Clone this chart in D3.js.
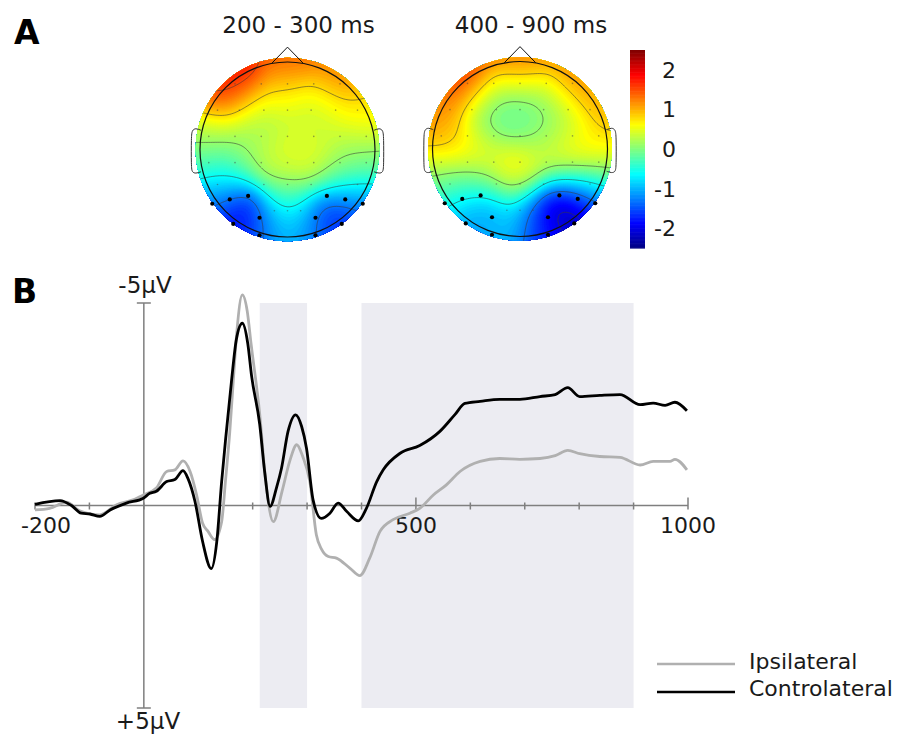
<!DOCTYPE html>
<html>
<head>
<meta charset="utf-8">
<script src="https://cdn.jsdelivr.net/npm/d3@7"></script>
<style>
  body { margin: 0; background: #fff; }
  text { font-family: "DejaVu Sans", Verdana, sans-serif; fill: #1a1a1a; }
</style>
</head>
<body>
<div class="figure"></div>
<script>
// ---- data ----
// ERP waveforms: [time (ms), amplitude (µV)], negative plotted up
var controlateral = [
  [-200,-0.03],[-154,-0.12],[-133,0.0],[-115,0.19],[-99,0.21],[-81,0.27],[-62,0.11],[-32,-0.06],
  [-1,-0.18],[11,-0.30],[23,-0.35],[42,-0.59],[57,-0.64],[72,-0.86],[81,-0.67],[94,-0.10],
  [108,0.89],[124,1.56],[134,0.9],[143,-0.59],[150,-1.6],[161,-3.06],[170,-4.1],[181,-4.5],
  [191,-4.0],[198,-3.2],[213,-2.0],[222,-0.84],[232,0.02],[244,-0.45],[253,-0.92],[265,-1.83],
  [279,-2.24],[290,-1.95],[299,-1.41],[311,-0.14],[326,0.32],
  [342,0.19],[357,-0.06],[373,0.15],[394,0.38],[409,0.07],[428,-0.59],[440,-0.88],[471,-1.29],
  [507,-1.48],[544,-1.83],[572,-2.25],[590,-2.52],[618,-2.57],[654,-2.62],[691,-2.62],[728,-2.69],
  [756,-2.74],[779,-2.91],[801,-2.69],[838,-2.72],[875,-2.74],[912,-2.49],[936,-2.53],[958,-2.47],
  [976,-2.55],[998,-2.34]
];
var ipsilateral = [
  [-200,0.11],[-173,0.07],[-142,-0.08],[-118,0.13],[-81,0.23],[-50,-0.02],[-20,-0.14],[-1,-0.26],
  [23,-0.43],[42,-0.84],[57,-0.88],[72,-1.10],[85,-0.84],[97,-0.26],[108,0.44],[118,0.64],
  [130,0.84],[143,0.40],[150,-0.6],[158,-1.83],[165,-3.2],[171,-4.30],[181,-5.20],[190,-4.8],
  [197,-4.0],[213,-2.25],[224,-0.59],[238,0.40],[254,-0.35],[268,-1.09],[281,-1.50],[292,-1.21],
  [305,-0.59],[317,0.72],[327,1.09],[339,1.26],[354,1.30],[379,1.55],[397,1.73],[415,1.30],
  [434,0.64],[458,0.35],[489,0.19],[507,0.07],[532,-0.26],[556,-0.51],[581,-0.84],[618,-1.09],
  [654,-1.16],[691,-1.14],[728,-1.16],[756,-1.23],[779,-1.36],[801,-1.28],[838,-1.21],[875,-1.19],
  [912,-1.00],[936,-1.09],[967,-1.09],[976,-1.14],[998,-0.88]
];
var shadeWindows = [[213, 300], [400, 900]];
var xTickValues = d3.range(-200, 1001, 100);
var xTickLabels = [-200, 500, 1000];
var seriesNames = ["Ipsilateral", "Controlateral"];
var seriesColors = ["#b0b0b0", "#000000"];

// topographies: [left-right, back-front (+ = back), µV]
var mapTitles = ["200 - 300 ms", "400 - 900 ms"];
var mapEarly = [
  [0,-1.0,1.4],[-0.6,-0.8,2.0],[-0.8,-0.65,1.6],[0.6,-0.8,1.3],[0.9,-0.5,0.8],
  [0,-0.62,0.7],[-0.45,-0.5,0.6],[0.45,-0.5,0.6],
  [-0.9,-0.25,0.3],[0.9,-0.25,0.5],[-0.3,-0.25,0.1],[0.3,-0.35,0.2],
  [0.1,0.05,0.6],[0.35,0.1,0.5],[-0.15,0.05,0.45],[-0.5,0.05,0.05],[0.7,0.05,0.2],
  [-0.95,0.15,-0.1],[0.95,0.15,-0.1],
  [-0.7,0.35,-0.6],[0,0.4,0.0],[0.6,0.35,-0.3],
  [-0.55,0.72,-2.1],[-0.85,0.55,-1.3],[-0.3,0.88,-1.5],
  [0.55,0.72,-1.9],[0.85,0.55,-1.2],[0.3,0.88,-1.4],
  [0,0.68,-0.35],[0,0.98,-0.9]
];
var mapLate = [
  [0,-1.0,1.5],[-0.6,-0.8,2.1],[0.6,-0.8,1.4],[-0.9,-0.5,1.2],[0.9,-0.5,1.0],
  [0,-0.88,1.1],[-0.45,-0.65,0.6],[0.45,-0.6,0.5],[0,-0.7,0.3],
  [-0.1,-0.42,-0.45],[0.1,-0.35,-0.15],[-0.3,-0.5,-0.1],[0.2,-0.5,0.0],
  [-0.3,-0.2,0.05],[0.2,-0.2,-0.05],[0.32,-0.05,0.25],
  [-0.85,-0.1,1.0],[-0.5,0.0,0.7],[0.0,0.15,1.0],
  [0.55,0.1,1.05],[0.9,0.0,0.8],[0.5,-0.2,0.35],
  [-0.5,0.35,0.0],[0.0,0.4,0.15],[0.5,0.35,-0.7],[-0.9,0.3,0.3],[0.9,0.3,0.0],
  [-0.5,0.7,-1.2],[-0.8,0.55,-0.7],[-0.3,0.9,-1.0],
  [0.5,0.65,-2.7],[0.3,0.8,-2.4],[0.8,0.55,-1.6],[0.3,0.97,-1.6],
  [0.05,0.8,-0.6]
];
var selectedElectrodes = [
  [-0.86,0.62],[-0.66,0.57],[-0.45,0.53],[-0.32,0.78],[-0.62,0.85],[-0.32,0.98],
  [0.86,0.62],[0.66,0.57],[0.45,0.53],[0.32,0.78],[0.62,0.85],[0.32,0.98]
];
var electrodeRows = [
  [-0.75, [-0.6,-0.3,0,0.3,0.6]],
  [-0.45, [-0.8,-0.55,-0.27,0,0.27,0.55,0.8]],
  [-0.15, [-0.9,-0.6,-0.3,0,0.3,0.6,0.9]],
  [0.15, [-0.9,-0.6,-0.3,0,0.3,0.6,0.9]],
  [0.4, [-0.8,-0.27,0,0.27,0.8]],
  [0.7, [-0.15,0,0.15]]
];
var colorbarTicks = [2, 1, 0, -1, -2];
var colorRange = [-2.5, 2.5];

// ---- setup ----
var W = 907, H = 736;
var svg = d3.select(".figure").append("svg")
    .attr("width", W).attr("height", H);

function jet(v) {
  var s = (v - colorRange[0]) / (colorRange[1] - colorRange[0]);
  s = Math.max(0, Math.min(1, s));
  function c(x) { return Math.round(255 * Math.max(0, Math.min(1, x))); }
  return "rgb(" + c(1.5 - Math.abs(4*s - 3)) + "," + c(1.5 - Math.abs(4*s - 2)) + "," + c(1.5 - Math.abs(4*s - 1)) + ")";
}

// panel letters
svg.append("text").attr("x", 14).attr("y", 44).text("A")
   .style("font-size", "33px").style("font-weight", "bold").style("fill", "#000");
svg.append("text").attr("x", 12).attr("y", 303).text("B")
   .style("font-size", "33px").style("font-weight", "bold").style("fill", "#000");

// ---- topographic maps ----
var R = 87.5;
var heads = [{cx: 287.5, cy: 149.5, pts: mapEarly}, {cx: 520, cy: 149, pts: mapLate}];
var n = 111, ext = 1.1, step = 2 * ext / (n - 1);
var sigma = 0.22;

function field(pts) {
  var vals = new Array(n * n);
  for (var j = 0; j < n; j++) {
    for (var i = 0; i < n; i++) {
      var u = -ext + i * step, v = -ext + j * step;
      var ws = 0, acc = 0;
      pts.forEach(function(p) {
        var d2 = (u - p[0]) * (u - p[0]) + (v - p[1]) * (v - p[1]);
        var w = Math.exp(-d2 / (2 * sigma * sigma));
        ws += w; acc += w * p[2];
      });
      vals[j * n + i] = acc / ws;
    }
  }
  return vals;
}

var fillLevels = d3.range(-3.5, 3.5, 0.05);
var lineLevels = [-2.0, -1.3, -0.6, 0.1, 0.8, 1.5];

heads.forEach(function(h, k) {
  var g = svg.append("g");
  var sx = d3.scaleLinear().domain([-1, 1]).range([h.cx - R, h.cx + R]);
  var sy = d3.scaleLinear().domain([-1, 1]).range([h.cy - R, h.cy + R]);
  var proj = d3.geoTransform({
    point: function(px, py) {
      this.stream.point(sx(-ext + (px - 0.5) * step), sy(-ext + (py - 0.5) * step));
    }
  });
  var path = d3.geoPath(proj);
  var vals = field(h.pts);

  var clipId = "clip" + k;
  svg.append("clipPath").attr("id", clipId)
    .append("circle").attr("cx", h.cx).attr("cy", h.cy).attr("r", R * 1.05);

  var maps = g.append("g").attr("clip-path", "url(#" + clipId + ")");
  maps.selectAll("path.band")
    .data(d3.contours().size([n, n]).thresholds(fillLevels)(vals))
    .enter().append("path")
      .attr("class", "band")
      .attr("d", path)
      .attr("fill", function(d) { return jet(d.value + 0.025); })
      .attr("stroke", function(d) { return jet(d.value + 0.025); })
      .attr("stroke-width", 0.3);

  maps.selectAll("path.iso")
    .data(d3.contours().size([n, n]).thresholds(lineLevels)(vals))
    .enter().append("path")
      .attr("class", "iso")
      .attr("d", path)
      .attr("fill", "none")
      .attr("stroke", "#3a3a3a")
      .attr("stroke-opacity", 0.7)
      .attr("stroke-width", 0.8);

  // small electrode dots
  var small = [];
  electrodeRows.forEach(function(r) { r[1].forEach(function(u) { small.push([u, r[0]]); }); });
  g.selectAll("circle.el").data(small).enter().append("circle")
    .attr("cx", function(d) { return sx(d[0]); })
    .attr("cy", function(d) { return sy(d[1]); })
    .attr("r", 0.8).attr("fill", "#444").attr("opacity", 0.5);

  // head outline, nose, ears
  g.append("circle").attr("cx", h.cx).attr("cy", h.cy).attr("r", R)
    .attr("fill", "none").attr("stroke", "#111").attr("stroke-width", 1.2);
  var line = d3.line().x(function(d) { return sx(d[0]); }).y(function(d) { return sy(d[1]); });
  g.append("path").attr("d", line([[-0.18, -0.985], [0, -1.17], [0.18, -0.985]]))
    .attr("fill", "none").attr("stroke", "#111").attr("stroke-width", 1);
  var ear = [[-0.99,-0.22],[-1.05,-0.245],[-1.09,-0.22],[-1.1,-0.15],[-1.1,0.2],[-1.09,0.26],[-1.05,0.275],[-0.99,0.255]];
  var earLine = d3.line().curve(d3.curveBasis)
    .x(function(d) { return sx(d[0]); }).y(function(d) { return sy(d[1]); });
  g.append("path").attr("d", earLine(ear))
    .attr("fill", "none").attr("stroke", "#333").attr("stroke-width", 1);
  g.append("path").attr("d", earLine(ear.map(function(d) { return [-d[0], d[1]]; })))
    .attr("fill", "none").attr("stroke", "#333").attr("stroke-width", 1);

  // selected electrodes
  g.selectAll("circle.sel").data(selectedElectrodes).enter().append("circle")
    .attr("cx", function(d) { return sx(d[0]); })
    .attr("cy", function(d) { return sy(d[1]); })
    .attr("r", 2.1).attr("fill", "#000");

  svg.append("text").attr("x", h.cx + 11).attr("y", 33)
    .attr("text-anchor", "middle").style("font-size", "23px")
    .text(mapTitles[k]);
});

// colorbar
var cy = d3.scaleLinear().domain(colorRange).range([248, 50]);
var cbStep = 0.02;
svg.append("g").selectAll("rect")
  .data(d3.range(colorRange[0], colorRange[1], cbStep))
  .enter().append("rect")
    .attr("x", 630).attr("width", 15)
    .attr("y", function(d) { return cy(d + cbStep); })
    .attr("height", function(d) { return cy(d) - cy(d + cbStep) + 0.6; })
    .attr("fill", function(d) { return jet(d + cbStep / 2); });
svg.append("g").selectAll("text")
  .data(colorbarTicks).enter().append("text")
    .attr("x", 676).attr("y", function(d) { return cy(d) + 8; })
    .attr("text-anchor", "end").style("font-size", "22px")
    .text(function(d) { return d < 0 ? "-" + Math.abs(d) : d; });

// ---- ERP panel ----
var x = d3.scaleLinear().domain([-200, 1000]).range([35, 688]);
var y = d3.scaleLinear().domain([-5, 5]).range([303, 708]);

svg.append("g").selectAll("rect")
  .data(shadeWindows).enter().append("rect")
    .attr("x", function(d) { return x(d[0]); })
    .attr("width", function(d) { return x(d[1]) - x(d[0]); })
    .attr("y", y(-5)).attr("height", y(5) - y(-5))
    .attr("fill", "#ececf2");

var axisColor = "#7f7f7f";
var ax = svg.append("g").attr("stroke", axisColor).attr("stroke-width", 1.5);
ax.append("line").attr("x1", x(-200)).attr("x2", x(1000)).attr("y1", y(0)).attr("y2", y(0));
ax.selectAll("line.tick").data(xTickValues).enter().append("line")
  .attr("x1", function(d) { return x(d); }).attr("x2", function(d) { return x(d); })
  .attr("y1", function(d) { return y(0) - (xTickLabels.indexOf(d) >= 0 && d > 0 ? 8 : 3); })
  .attr("y2", y(0) + 4);
ax.append("line").attr("x1", x(0)).attr("x2", x(0)).attr("y1", y(-5)).attr("y2", y(5));
ax.selectAll("line.ytick").data([-5, 5]).enter().append("line")
  .attr("x1", x(0) - 7).attr("x2", x(0) + 7)
  .attr("y1", function(d) { return y(d); }).attr("y2", function(d) { return y(d); });

svg.append("g").selectAll("text")
  .data(xTickLabels).enter().append("text")
    .attr("x", function(d) { return d === -200 ? x(d) + 11 : x(d); })
    .attr("y", 533)
    .attr("text-anchor", "middle").style("font-size", "22px")
    .text(function(d) { return d < 0 ? "-" + Math.abs(d) : d; });
svg.append("text").attr("x", 145).attr("y", 293).attr("text-anchor", "middle")
  .style("font-size", "23px").text("-5µV");
svg.append("text").attr("x", 148).attr("y", 729).attr("text-anchor", "middle")
  .style("font-size", "23px").text("+5µV");

var erpLine = d3.line().curve(d3.curveMonotoneX)
  .x(function(d) { return x(d[0]); })
  .y(function(d) { return y(d[1]); });
[ipsilateral, controlateral].forEach(function(s, i) {
  svg.append("path").attr("d", erpLine(s))
    .attr("fill", "none").attr("stroke", seriesColors[i])
    .attr("stroke-width", 2.8).attr("stroke-linejoin", "round");
});

// legend
var lg = svg.append("g");
seriesNames.forEach(function(name, i) {
  lg.append("line").attr("x1", 657).attr("x2", 735)
    .attr("y1", 664 + i * 28).attr("y2", 664 + i * 28)
    .attr("stroke", seriesColors[i]).attr("stroke-width", 2.5);
  lg.append("text").attr("x", 749).attr("y", 669 + i * 27)
    .style("font-size", "22px").text(name);
});
</script>
</body>
</html>
